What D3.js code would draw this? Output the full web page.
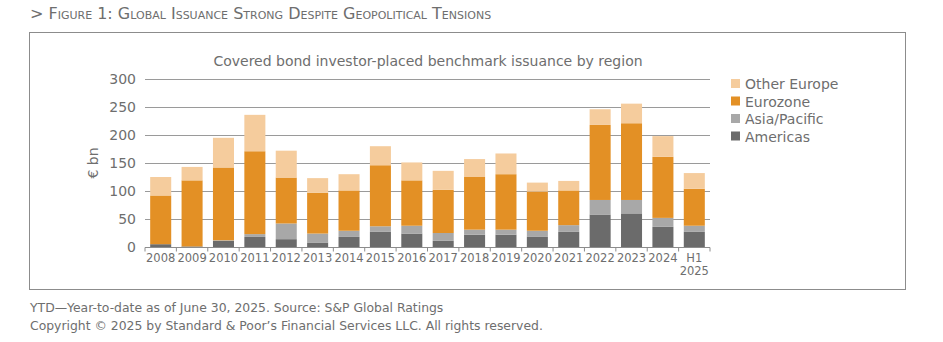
<!DOCTYPE html>
<html>
<head>
<meta charset="utf-8">
<script src="https://cdn.jsdelivr.net/npm/d3@7"></script>
<style>
  body { margin: 0; background: #fff; font-family: "DejaVu Sans", Verdana, sans-serif; }
</style>
</head>
<body>
<div id="chart"></div>
<script>
// Covered bond benchmark issuance, EUR bn
const years = ["2008", "2009", "2010", "2011", "2012", "2013", "2014", "2015", "2016",
  "2017", "2018", "2019", "2020", "2021", "2022", "2023", "2024", "H1 2025"];
const americas    = [5, 1, 11, 18, 14, 8, 18, 27, 24, 11, 22, 22, 18, 27, 58, 60, 36, 27];
const asiaPacific = [0, 0, 1, 5, 28, 16, 11, 10, 14, 14, 9, 9, 11, 12, 26, 24, 16, 11];
const eurozone    = [87, 118, 130, 148, 82, 73, 72, 109, 81, 77, 94, 99, 70, 62, 134, 137, 109, 66];
const otherEurope = [33, 24, 53, 65, 48, 26, 29, 34, 32, 34, 32, 37, 16, 17, 28, 35, 37, 28];
const yTicks = [0, 50, 100, 150, 200, 250, 300];

const seriesNames = ["Americas", "Asia/Pacific", "Eurozone", "Other Europe"];
const colors = ["#6b6b6b", "#a8a8a8", "#e39025", "#f5cc9d"];

const W = 943, H = 342;
const margin = {top: 79, left: 145, right: 233, bottom: 95};

const svg = d3.select("#chart").append("svg")
  .attr("width", W).attr("height", H);

svg.append("text")
  .attr("x", 30).attr("y", 19)
  .attr("fill", "#6e6e6e")
  .style("font-size", "16px")
  .style("font-variant", "small-caps")
  .text("> Figure 1: Global Issuance Strong Despite Geopolitical Tensions");

svg.append("rect")
  .attr("x", 29.5).attr("y", 32.5)
  .attr("width", 876).attr("height", 257)
  .attr("fill", "none").attr("stroke", "#8c8c8c");

const rows = years.map((y, i) => ({
  year: y, "Americas": americas[i], "Asia/Pacific": asiaPacific[i],
  "Eurozone": eurozone[i], "Other Europe": otherEurope[i]
}));
const stacked = d3.stack().keys(seriesNames)(rows);

const x = d3.scaleBand().domain(years)
  .range([margin.left, W - margin.right]).paddingInner(0.33).paddingOuter(0.165);
const y = d3.scaleLinear().domain([0, 300]).range([H - margin.bottom, margin.top]);

const g = svg.append("g");

// gridlines
g.selectAll("line.grid").data(yTicks.slice(1)).join("line")
  .attr("class", "grid")
  .attr("x1", margin.left).attr("x2", W - margin.right)
  .attr("y1", d => y(d) + 0.5).attr("y2", d => y(d) + 0.5)
  .attr("stroke", "#9a9a9a").attr("stroke-width", 1);

// y labels
g.selectAll("text.ytick").data(yTicks).join("text")
  .attr("class", "ytick")
  .attr("x", 136).attr("y", d => y(d) + 5)
  .attr("text-anchor", "end")
  .attr("fill", "#6e6e6e")
  .style("font-size", "14px")
  .text(d => d);

g.append("text")
  .attr("transform", `translate(98, ${y(150)}) rotate(-90)`)
  .attr("text-anchor", "middle")
  .attr("fill", "#6e6e6e")
  .style("font-size", "14px")
  .text("€ bn");

// bars
g.selectAll("g.series").data(stacked).join("g")
  .attr("class", "series")
  .attr("fill", (d, i) => colors[i])
  .selectAll("rect").data(d => d).join("rect")
  .attr("x", d => x(d.data.year))
  .attr("width", x.bandwidth())
  .attr("y", d => y(d[1]))
  .attr("height", d => y(d[0]) - y(d[1]));

// x axis
const x0 = y(0) + 0.5;
g.append("line")
  .attr("x1", margin.left).attr("x2", W - margin.right)
  .attr("y1", x0).attr("y2", x0)
  .attr("stroke", "#8c8c8c");
const step = x.step();
const bounds = d3.range(years.length + 1).map(i => margin.left + i * step);
g.selectAll("line.xtick").data(bounds).join("line")
  .attr("class", "xtick")
  .attr("x1", d => d).attr("x2", d => d)
  .attr("y1", x0).attr("y2", x0 + 4)
  .attr("stroke", "#8c8c8c");

g.selectAll("text.xtick").data(years).join("text")
  .attr("class", "xtick")
  .attr("text-anchor", "middle")
  .attr("fill", "#6e6e6e")
  .style("font-size", "11.5px")
  .each(function(d) {
    const cx = x(d) + x.bandwidth() / 2;
    const parts = d.split(" ");
    d3.select(this).selectAll("tspan").data(parts).join("tspan")
      .attr("x", cx)
      .attr("y", (p, i) => 262 + i * 13)
      .text(p => p);
  });

// chart title
svg.append("text")
  .attr("x", 428).attr("y", 66)
  .attr("text-anchor", "middle")
  .attr("fill", "#6e6e6e")
  .style("font-size", "14px")
  .text("Covered bond investor-placed benchmark issuance by region");

// legend
const legendItems = seriesNames.slice().reverse();
const legendColors = colors.slice().reverse();
const lg = svg.append("g").attr("transform", "translate(731, 79)");
legendItems.forEach((name, i) => {
  lg.append("rect")
    .attr("x", 0).attr("y", i * 17.5)
    .attr("width", 9).attr("height", 9)
    .attr("fill", legendColors[i]);
  lg.append("text")
    .attr("x", 14).attr("y", i * 17.5 + 10)
    .attr("fill", "#6e6e6e")
    .style("font-size", "14px")
    .text(name);
});

// footnotes
svg.append("text")
  .attr("x", 30).attr("y", 312)
  .attr("fill", "#6e6e6e")
  .style("font-size", "12.4px")
  .text("YTD\u2014Year-to-date as of June 30, 2025. Source: S&P Global Ratings");
svg.append("text")
  .attr("x", 30).attr("y", 330)
  .attr("fill", "#6e6e6e")
  .style("font-size", "12.4px")
  .text("Copyright \u00a9 2025 by Standard & Poor\u2019s Financial Services LLC. All rights reserved.");
</script>
</body>
</html>
